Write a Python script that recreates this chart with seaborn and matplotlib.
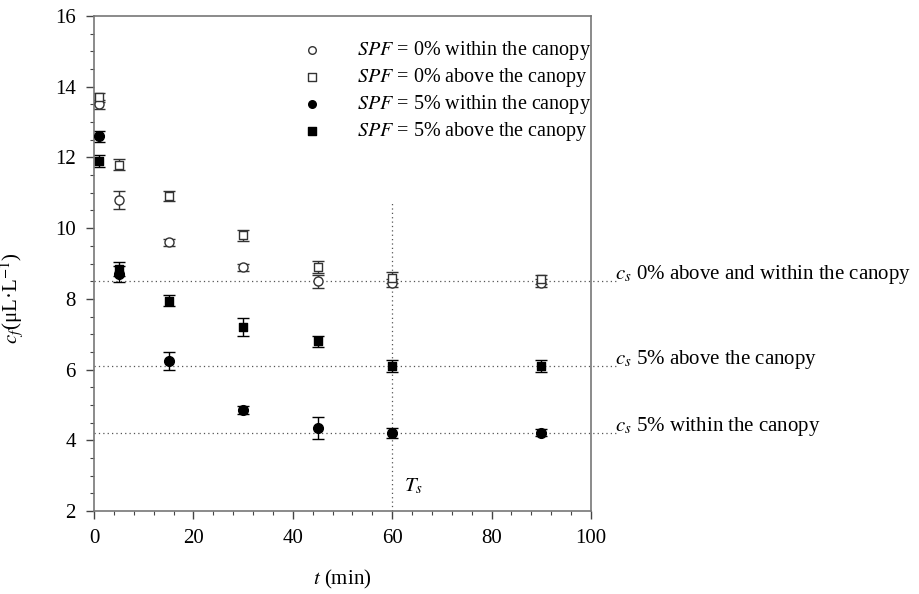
import numpy as np
import pandas as pd
import matplotlib
matplotlib.use('Agg')
import matplotlib.pyplot as plt
import seaborn as sns

# sampling times (min)
t = [1, 5, 15, 30, 45, 60, 90]

# concentration c_f (uL/L) and error bars for each series
spf0_within = [13.5, 10.8, 9.6, 8.9, 8.5, 8.45, 8.45]
spf0_within_err = [0.12, 0.25, 0.1, 0.1, 0.18, 0.12, 0.12]
spf0_above = [13.7, 11.8, 10.9, 9.8, 8.9, 8.6, 8.55]
spf0_above_err = [0.12, 0.15, 0.14, 0.16, 0.18, 0.15, 0.12]
spf5_within = [12.6, 8.7, 6.25, 4.85, 4.35, 4.2, 4.22]
spf5_within_err = [0.15, 0.22, 0.25, 0.12, 0.32, 0.14, 0.1]
spf5_above = [11.9, 8.85, 7.95, 7.2, 6.8, 6.1, 6.1]
spf5_above_err = [0.18, 0.2, 0.16, 0.25, 0.16, 0.16, 0.18]

labels = ['$SPF$ = 0% within the canopy', '$SPF$ = 0% above the canopy',
          '$SPF$ = 5% within the canopy', '$SPF$ = 5% above the canopy']

# steady state levels
cs_levels = [8.5, 6.1, 4.2]
cs_labels = ['$c_s$ 0% above and within the canopy',
             '$c_s$ 5% above the canopy',
             '$c_s$ 5% within the canopy']
ts = 60

sns.set_theme(style='ticks')
plt.rcParams['font.family'] = ['Liberation Serif', 'DejaVu Serif']
plt.rcParams['mathtext.fontset'] = 'stix'
plt.rcParams['text.color'] = 'black'
plt.rcParams['axes.labelcolor'] = 'black'
plt.rcParams['xtick.color'] = 'black'
plt.rcParams['ytick.color'] = 'black'
fs = 15

fig = plt.figure(figsize=(9.19, 5.94), dpi=100)
ax = fig.add_axes([0.1023, 0.1397, 0.5408, 0.8333])

series = [
    (spf0_within, spf0_within_err, 'o', 'white', '#333333', 6.5),
    (spf0_above, spf0_above_err, 's', 'white', '#333333', 6),
    (spf5_within, spf5_within_err, 'o', 'black', 'black', 7),
    (spf5_above, spf5_above_err, 's', 'black', 'black', 6),
]

# reference lines
for lv in cs_levels:
    ax.plot([0, 105.5], [lv, lv], ls=(0, (1, 2.5)), color='#555555', lw=0.9, clip_on=False, zorder=1)
ax.plot([ts, ts], [2, 10.7], ls=(0, (1, 2.5)), color='#555555', lw=0.9, zorder=1)

for (y, e, m, fc, ec, ms), lab in zip(series, labels):
    ax.errorbar(t, y, yerr=e, fmt='none', ecolor=ec, elinewidth=1, capsize=4, capthick=1, zorder=2)
    df = pd.DataFrame({'t': t, 'c': y})
    sns.scatterplot(data=df, x='t', y='c', marker=m, color=fc, edgecolor=ec,
                    linewidth=1, s=ms ** 2, label=lab, ax=ax, zorder=3)

for lv, txt in zip(cs_levels, cs_labels):
    ax.text(104.8, lv + 0.05, txt, ha='left', va='baseline', fontsize=fs, clip_on=False)
ax.text(62.3, 2.55, '$T_s$', fontsize=fs, ha='left', va='baseline')

ax.set_xlim(0, 100)
ax.set_ylim(2, 16)
ax.set_xticks(np.arange(0, 101, 20))
ax.set_xticks(np.arange(0, 101, 4), minor=True)
ax.set_yticks(np.arange(2, 17, 2))
ax.set_yticks(np.arange(2, 16.1, 0.5), minor=True)
ax.tick_params(which='major', direction='out', length=6, width=1, color='#444444', labelsize=fs, pad=7)
ax.tick_params(which='minor', direction='out', length=3, width=0.8, color='#444444')
for sp in ax.spines.values():
    sp.set_color('#777777')
    sp.set_linewidth(1.2)

ax.set_xlabel('$t$ (min)', fontsize=fs, labelpad=14)
ax.set_ylabel('$c_f$(μL·L$^{-1}$)', fontsize=fs)
ax.yaxis.set_label_coords(-0.137, 0.43)

leg = ax.legend(loc='upper right', bbox_to_anchor=(1.0, 0.953), frameon=False,
                borderaxespad=0, borderpad=0, handletextpad=1.5, labelspacing=0.2,
                fontsize=14.5, handlelength=1.5)
for h in leg.legend_handles:
    h.set_sizes([30])

fig.savefig('out.png', dpi=100)
